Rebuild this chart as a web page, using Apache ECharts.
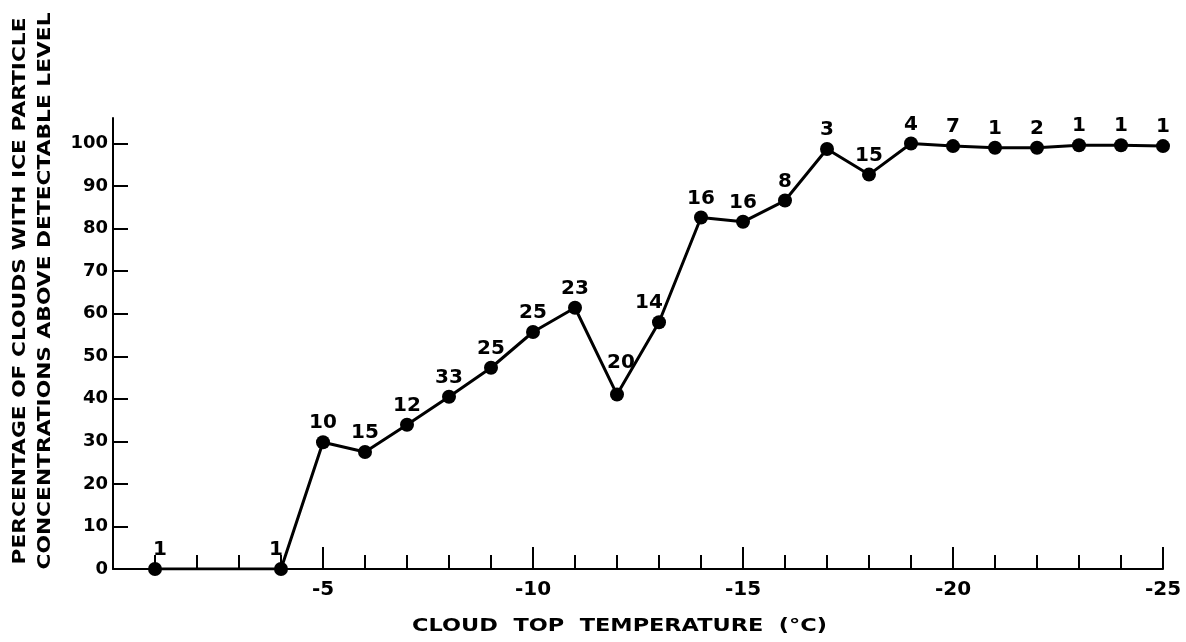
<!DOCTYPE html>
<html lang="en">
<head>
    <meta charset="utf-8">
    <title>cloud top temperature</title>
    <script src="https://cdn.jsdelivr.net/npm/echarts@6/dist/echarts.min.js"></script>
    <style>
        html, body { margin: 0; padding: 0; background: #fff; }
        #chart { width: 1186px; height: 642px; }
    </style>
</head>
<body>
<div id="chart"></div>

<script>
    // cloud top temperature (deg C)
    var temps  = [-1, -4, -5, -6, -7, -8, -9, -10, -11, -12, -13, -14, -15, -16, -17, -18, -19, -20, -21, -22, -23, -24, -25];
    // percentage of clouds with ice above detectable level
    var pct    = [0, 0, 29.8, 27.5, 33.9, 40.5, 47.3, 55.7, 61.4, 41, 58, 82.6, 81.6, 86.6, 98.7, 92.7, 100, 99.4, 99, 99, 99.6, 99.6, 99.4];
    // number of clouds at each temperature
    var counts = [1, 1, 10, 15, 12, 33, 25, 25, 23, 20, 14, 16, 16, 8, 3, 15, 4, 7, 1, 2, 1, 1, 1];
    var yTicks = [0, 10, 20, 30, 40, 50, 60, 70, 80, 90, 100];

    var FONT = 'DejaVu Sans';
    var xTitle = 'CLOUD  TOP  TEMPERATURE  (\u00b0C)';
    var yTitle = 'PERCENTAGE OF CLOUDS WITH ICE PARTICLE\nCONCENTRATIONS ABOVE DETECTABLE LEVEL';

    // stretch titles to the wide lettering of the original
    function stretch(text, size, target) {
        var ctx = document.createElement('canvas').getContext('2d');
        ctx.font = 'bold ' + size + 'px "' + FONT + '"';
        var w = Math.max.apply(null, text.split('\n').map(function (t) { return ctx.measureText(t).width; }));
        return target / w;
    }

    // a few labels sit off the line in the original
    var nudge = { '-1': [5, 0], '-4': [-5, 0], '-12': [4, -13], '-13': [-10, 0] };

    var points = temps.map(function (t, i) {
        var item = { value: [t, pct[i]] };
        if (nudge[t]) item.label = { offset: nudge[t] };
        return item;
    });

    var chart = echarts.init(document.getElementById('chart'));
    chart.setOption({
        animation: false,
        backgroundColor: '#fff',
        grid: { left: 113, right: 23, top: 118, bottom: 73 },
        xAxis: {
            type: 'value',
            min: -25,
            max: 0,
            interval: 5,
            inverse: true,
            splitLine: { show: false },
            axisLine: { lineStyle: { color: '#000', width: 2 } },
            axisTick: { inside: true, length: 22, lineStyle: { color: '#000', width: 2 } },
            minorTick: { show: true, splitNumber: 5, length: 14, lineStyle: { color: '#000', width: 2 } },
            axisLabel: {
                margin: 11,
                color: '#000',
                fontFamily: FONT,
                fontWeight: 'bold',
                fontSize: 20,
                formatter: function (v) { return v === 0 ? '' : String(v); }
            }
        },
        yAxis: {
            type: 'value',
            min: 0,
            max: 106,
            splitLine: { show: false },
            axisLine: { lineStyle: { color: '#000', width: 2 } },
            axisTick: { inside: true, length: 15, customValues: yTicks, lineStyle: { color: '#000', width: 2 } },
            axisLabel: {
                margin: 5,
                color: '#000',
                fontFamily: FONT,
                fontWeight: 'bold',
                fontSize: 18,
                customValues: yTicks
            }
        },
        series: [{
            type: 'line',
            data: points,
            color: '#000',
            lineStyle: { color: '#000', width: 3 },
            symbol: 'circle',
            symbolSize: 14,
            itemStyle: { color: '#000' },
            label: {
                show: true,
                position: 'top',
                distance: 2,
                color: '#000',
                fontFamily: FONT,
                fontWeight: 'bold',
                fontSize: 20,
                formatter: function (p) { return String(counts[p.dataIndex]); }
            }
        }],
        graphic: [
            {
                type: 'text',
                x: 619.5,
                y: 626,
                scaleX: stretch(xTitle, 18, 415),
                style: { text: xTitle, fill: '#000', font: 'bold 18px "' + FONT + '"', align: 'center', verticalAlign: 'middle' }
            },
            {
                type: 'text',
                x: 33.5,
                y: 291,
                rotation: Math.PI / 2,
                scaleX: stretch(yTitle, 17, 557),
                style: { text: yTitle, fill: '#000', font: 'bold 17px "' + FONT + '"', lineHeight: 25, align: 'center', verticalAlign: 'middle' }
            }
        ]
    });
</script>
</body>
</html>
